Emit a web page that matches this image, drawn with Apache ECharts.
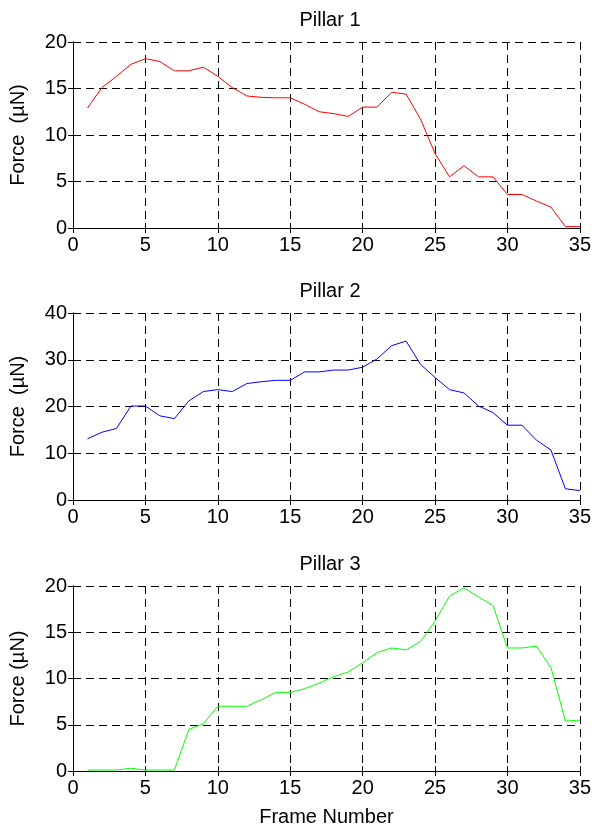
<!DOCTYPE html>
<html><head><meta charset="utf-8">
<script src="https://cdn.jsdelivr.net/npm/echarts@6/dist/echarts.min.js"></script>
<style>html,body{margin:0;padding:0;background:#fff}#c{width:594px;height:831px}</style>
</head><body><div id="c"></div>
<script>
const frames = Array.from({length:35},(_,i)=>i+1);
const pillar1 = [12.9,15.1,16.3,17.6,18.2,17.9,16.9,16.9,17.3,16.3,15.1,14.2,14.05,14.0,14.0,13.3,12.5,12.3,12.0,13.0,13.0,14.6,14.4,11.7,8.0,5.5,6.7,5.5,5.5,3.6,3.6,2.9,2.25,0.15,0.15];
const pillar2 = [13.1,14.5,15.3,20.1,20.1,18.0,17.4,21.2,23.2,23.6,23.2,24.9,25.3,25.6,25.6,27.4,27.4,27.8,27.8,28.4,30.2,33.0,34.0,29.0,26.2,23.6,22.9,20.1,18.7,16.0,16.0,12.8,10.7,2.4,2.0];
const pillar3 = [0.1,0.1,0.1,0.3,0.1,0.1,0.1,4.5,5.1,7.0,7.0,7.0,7.7,8.5,8.5,8.9,9.5,10.2,10.7,11.7,12.8,13.3,13.1,14.0,16.2,18.9,19.8,18.8,17.9,13.3,13.3,13.5,11.2,5.4,5.5];
const titles = ['Pillar 1','Pillar 2','Pillar 3'];
const yMax = [20,40,20];
const yStep = [5,10,5];
const yNames = ['Force  (\u00b5N)','Force  (\u00b5N)','Force (\u00b5N)'];
const colors = ['#ff0000','#0000ff','#00ff00'];
const seriesData = [pillar1,pillar2,pillar3];

const FONT = 'Liberation Sans, Arial, sans-serif';
const FS = 20;
const grids = [{left:73,right:13,top:42,height:186},{left:73,right:13,top:313,height:187},{left:73,right:13,top:586,height:185}];
const dash = {color:'#000',type:[8,5],width:1};
const xAxes=[],yAxes=[],series=[],title=[];
for(let i=0;i<3;i++){
  title.push({text:titles[i],left:325,top:grids[i].top-37,textAlign:'center',textStyle:{fontFamily:FONT,fontSize:FS,fontWeight:'normal',color:'#000'}});
  xAxes.push({type:'value',gridIndex:i,min:0,max:35,interval:5,position:'bottom',
    name:i===2?'Frame Number':'',nameLocation:'middle',nameGap:36,nameTextStyle:{fontFamily:FONT,fontSize:FS,color:'#000'},
    axisLine:{lineStyle:{color:'#000',width:1}},axisTick:{inside:true,length:5,lineStyle:{color:'#000'}},
    axisLabel:{fontFamily:FONT,fontSize:FS,color:'#000',margin:7},
    splitLine:{show:true,lineStyle:dash}});
  xAxes.push({type:'value',gridIndex:i,min:0,max:35,interval:5,position:'top',
    axisLine:{lineStyle:{color:'#000',width:1}},axisTick:{inside:true,length:5,lineStyle:{color:'#000'}},
    axisLabel:{show:false},splitLine:{show:false}});
  yAxes.push({type:'value',gridIndex:i,min:0,max:yMax[i],interval:yStep[i],position:'left',
    name:yNames[i],nameLocation:'middle',nameGap:45,nameRotate:90,nameTextStyle:{fontFamily:FONT,fontSize:FS,color:'#000'},
    axisLine:{show:true,lineStyle:{color:'#000',width:1}},axisTick:{show:true,inside:true,length:5,lineStyle:{color:'#000'}},
    axisLabel:{fontFamily:FONT,fontSize:FS,color:'#000',margin:6},
    splitLine:{show:true,lineStyle:dash}});
  yAxes.push({type:'value',gridIndex:i,min:0,max:yMax[i],interval:yStep[i],position:'right',
    axisLine:{show:true,lineStyle:{color:'#000',width:1}},axisTick:{show:true,inside:true,length:5,lineStyle:{color:'#000'}},
    axisLabel:{show:false},splitLine:{show:false}});
  series.push({type:'line',xAxisIndex:i*2,yAxisIndex:i*2,data:frames.map((f,k)=>[f,seriesData[i][k]]),
    showSymbol:false,lineStyle:{color:colors[i],width:1},itemStyle:{color:colors[i]},animation:false});
}
const chart = echarts.init(document.getElementById('c'),null,{renderer:'canvas'});
chart.setOption({backgroundColor:'#fff',animation:false,title,grid:grids,xAxis:xAxes,yAxis:yAxes,series});
</script></body></html>
